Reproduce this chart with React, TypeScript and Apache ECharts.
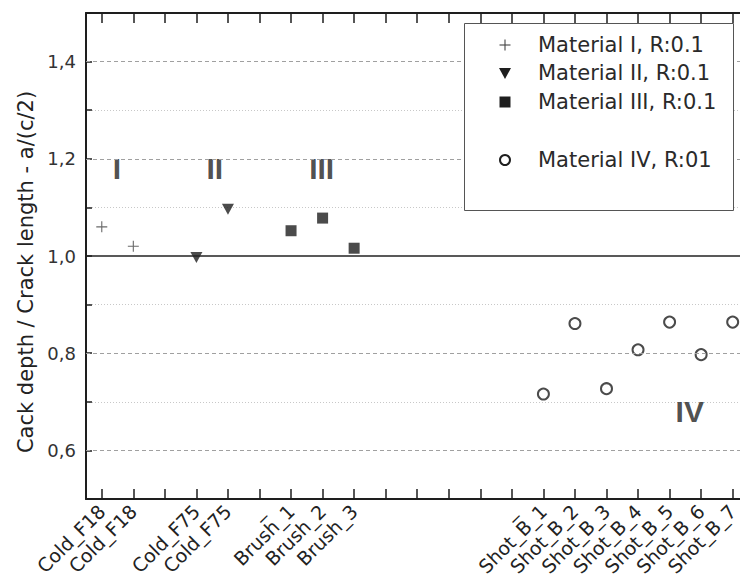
import React, { useEffect, useRef } from "react";
import * as echarts from "echarts";

const categories = [
  "Cold_F18", "Cold_F18", "", "Cold_F75", "Cold_F75", "_", "Brush_1", "Brush_2", "Brush_3",
  "", "", "", "", "_", "Shot_B_1", "Shot_B_2", "Shot_B_3", "Shot_B_4", "Shot_B_5", "Shot_B_6", "Shot_B_7", "",
];

const seriesNames = ["Material I, R:0.1", "Material II, R:0.1", "Material III, R:0.1", "Material IV, R:01"];
const mat1X = [0, 1];
const mat1Y = [1.06, 1.02];
const mat2X = [3, 4];
const mat2Y = [0.997, 1.096];
const mat3X = [6, 7, 8];
const mat3Y = [1.052, 1.078, 1.016];
const mat4X = [14, 15, 16, 17, 18, 19, 20];
const mat4Y = [0.716, 0.861, 0.727, 0.807, 0.864, 0.797, 0.864];

const majorGridValues = [0.6, 0.8, 1.2, 1.4];
const referenceValue = 1.0;

const annNames = ["I", "II", "III", "IV"];
const annX = [0.48, 3.58, 6.97, 18.64];
const annY = [1.18, 1.18, 1.18, 0.68];

const FONT = "DejaVu Sans";
const INK = "#1e1e1e";

const zip = (xs: number[], ys: number[]) => xs.map((x, i) => [x, ys[i]]);

const PLUS = "path://M4.5,0h1v4.5h4.5v1h-4.5v4.5h-1v-4.5h-4.5v-1h4.5z";
const DOWN_TRI = "path://M0,0L10,0L5,9Z";

function legendGraphic() {
  const boxX = 464, boxY = 23, boxW = 269, boxH = 187;
  const symX = 505, textX = 538;
  const rowY = [45, 73, 102, 160];
  const Z = 100;
  const items: any[] = [
    {
      type: "rect",
      z: Z,
      shape: { x: boxX + 0.5, y: boxY + 0.5, width: boxW, height: boxH },
      style: { fill: "#fff", stroke: "#555", lineWidth: 1 },
    },
    // Material I: plus
    { type: "line", z: Z + 1, shape: { x1: symX - 5.5, y1: rowY[0], x2: symX + 5.5, y2: rowY[0] }, style: { stroke: "#444", lineWidth: 1.1 } },
    { type: "line", z: Z + 1, shape: { x1: symX, y1: rowY[0] - 5.5, x2: symX, y2: rowY[0] + 5.5 }, style: { stroke: "#444", lineWidth: 1.1 } },
    // Material II: down triangle
    {
      type: "polygon",
      z: Z + 1,
      shape: { points: [[symX - 6, rowY[1] - 5], [symX + 6, rowY[1] - 5], [symX, rowY[1] + 6]] },
      style: { fill: INK },
    },
    // Material III: square
    { type: "rect", z: Z + 1, shape: { x: symX - 5.5, y: rowY[2] - 5.5, width: 11, height: 11 }, style: { fill: INK } },
    // Material IV: open circle
    { type: "circle", z: Z + 1, shape: { cx: symX, cy: rowY[3], r: 5 }, style: { fill: "#fff", stroke: INK, lineWidth: 2 } },
  ];
  seriesNames.forEach((name, i) => {
    items.push({
      type: "text",
      z: Z + 1,
      x: textX,
      y: rowY[i],
      style: {
        text: name,
        fontFamily: FONT,
        fontSize: 21,
        fill: "#2a2a2a",
        textVerticalAlign: "middle",
        verticalAlign: "middle",
        align: "left",
      },
    });
  });
  return items;
}

export default function App() {
  const ref = useRef<HTMLDivElement>(null);
  useEffect(() => {
    if (!ref.current) return;
    const chart = echarts.init(ref.current, undefined, { renderer: "svg" });
    const xMin = -0.5;
    const xMax = categories.length - 0.5;
    const commonX = {
      type: "category" as const,
      data: categories,
      boundaryGap: true,
      splitLine: { show: false },
      axisLine: { show: true, onZero: false, lineStyle: { color: INK, width: 2 } },
      axisTick: {
        show: true,
        inside: true,
        length: 10,
        alignWithLabel: true,
        interval: 0,
        lineStyle: { color: INK, width: 1.5 },
      },
    };
    chart.setOption({
      animation: false,
      backgroundColor: "#fff",
      grid: { left: 86, top: 13, bottom: 87, right: 20, containLabel: false },
      graphic: legendGraphic(),
      xAxis: [
        {
          ...commonX,
          position: "bottom",
          axisLabel: {
            show: true,
            interval: 0,
            rotate: 45,
            margin: 9,
            fontFamily: FONT,
            fontSize: 19,
            color: "#222",
          },
        },
        {
          ...commonX,
          position: "top",
          axisLabel: { show: false },
        },
        {
          type: "value",
          show: false,
          min: xMin,
          max: xMax,
        },
      ],
      yAxis: [
        {
          type: "value",
          min: 0.5,
          max: 1.5,
          interval: 0.1,
          position: "left",
          name: "Cack depth / Crack length - a/(c/2)",
          nameLocation: "middle",
          nameGap: 48,
          nameTextStyle: { fontFamily: FONT, fontSize: 21, color: "#222", padding: [0, 32, 0, 0] },
          axisLine: { show: true, onZero: false, lineStyle: { color: INK, width: 2 } },
          axisTick: { show: true, inside: true, length: 6, lineStyle: { color: INK, width: 1.5 } },
          axisLabel: {
            margin: 10,
            fontFamily: FONT,
            fontSize: 18,
            color: "#333",
            formatter: (v: number) => {
              const k = Math.round(v * 10);
              return k % 2 === 0 ? (k / 10).toFixed(1).replace(".", ",") : "";
            },
          },
          splitLine: {
            show: true,
            lineStyle: { color: ["#c8c8c8", "rgba(0,0,0,0)"], type: [1, 2], width: 1 },
          },
        },
      ],
      series: [
        {
          name: "grid-lines",
          type: "scatter",
          data: [],
          silent: true,
          markLine: {
            silent: true,
            symbol: ["none", "none"],
            label: { show: false },
            data: [
              ...majorGridValues.map((v) => ({
                yAxis: v,
                lineStyle: { color: "#a0a0a0", type: [4, 3], width: 1 },
              })),
              { yAxis: referenceValue, lineStyle: { color: "#222", type: "solid", width: 1.6 } },
            ],
          },
        },
        {
          name: seriesNames[0],
          type: "scatter",
          symbol: PLUS,
          symbolSize: 11,
          itemStyle: { color: "#444" },
          data: zip(mat1X, mat1Y),
        },
        {
          name: seriesNames[1],
          type: "scatter",
          symbol: DOWN_TRI,
          symbolSize: [12, 11],
          itemStyle: { color: INK },
          data: zip(mat2X, mat2Y),
        },
        {
          name: seriesNames[2],
          type: "scatter",
          symbol: "rect",
          symbolSize: 11,
          itemStyle: { color: INK },
          data: zip(mat3X, mat3Y),
        },
        {
          name: seriesNames[3],
          type: "scatter",
          symbol: "circle",
          symbolSize: 11,
          itemStyle: { color: "#fff", borderColor: INK, borderWidth: 2 },
          data: zip(mat4X, mat4Y),
        },
        {
          name: "annotations",
          type: "scatter",
          xAxisIndex: 2,
          silent: true,
          symbol: "circle",
          symbolSize: 0,
          itemStyle: { color: "rgba(0,0,0,0)" },
          label: {
            show: true,
            position: "inside",
            formatter: (p: any) => p.name,
            fontFamily: "Liberation Sans",
            fontWeight: "bold",
            fontSize: 30,
            color: "#222",
          },
          data: annNames.map((n, i) => ({ name: n, value: [annX[i], annY[i]] })),
        },
      ],
    });
    return () => chart.dispose();
  }, []);
  return (
    <div style={{ position: "fixed", left: 0, top: 0, width: 740, height: 586, overflow: "hidden", background: "#fff" }}>
      <div ref={ref} style={{ width: 800, height: 586 }} />
    </div>
  );
}
